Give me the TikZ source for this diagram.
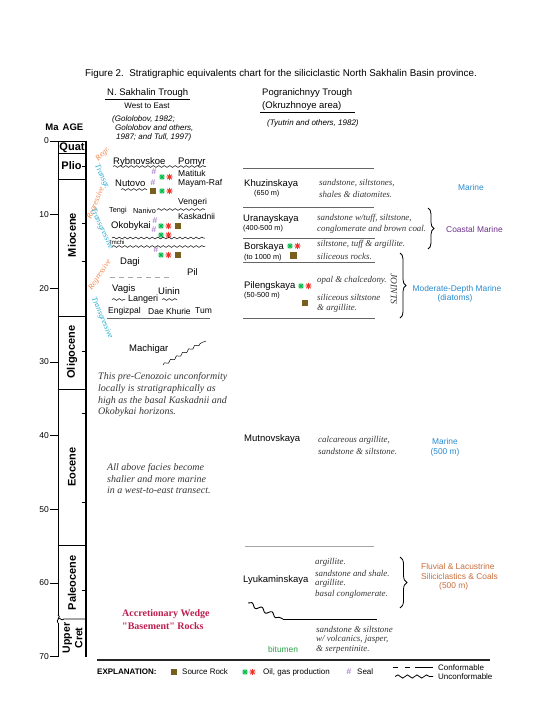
\documentclass[tikz,border=0pt]{standalone}
\usepackage{fontspec}
\setmainfont{Liberation Sans}
\newfontfamily\serifit{Liberation Serif}
\usetikzlibrary{decorations.pathmorphing,decorations.pathreplacing}
\definecolor{marineblue}{RGB}{40,140,210}
\definecolor{coastpurple}{RGB}{110,50,140}
\definecolor{fluvorange}{RGB}{200,110,60}
\definecolor{bitgreen}{RGB}{40,160,70}
\definecolor{stargreen}{RGB}{0,185,70}
\definecolor{starred}{RGB}{240,50,40}
\definecolor{srcbrown}{RGB}{120,95,30}
\definecolor{sealpurple}{RGB}{150,100,190}
\definecolor{regorange}{RGB}{242,135,80}
\definecolor{trcyan}{RGB}{35,170,210}
\definecolor{wedgered}{RGB}{190,30,80}
\definecolor{desctext}{RGB}{55,55,55}
\newcommand{\setfs}[1]{\fontsize{#1}{#1}\selectfont}
\newcommand{\oilmark}[3]{\draw[#3,line width=0.9pt] (#1-3.1,#2) -- (#1+3.1,#2) (#1,#2-3.1) -- (#1,#2+3.1) (#1-2.2,#2-2.2) -- (#1+2.2,#2+2.2) (#1-2.2,#2+2.2) -- (#1+2.2,#2-2.2);}
\newcommand{\oilpair}[2]{\oilmark{#1}{#2}{stargreen}\oilmark{#1+7.5}{#2}{starred}}
\newcommand{\srcsq}[2]{\fill[srcbrown] (#1-3.3,#2-3.3) rectangle (#1+3.3,#2+3.3);}
\tikzset{
  txt/.style={inner sep=0pt, font=\setfs{9.5}},
  fname/.style={inner sep=0pt, anchor=west, font=\setfs{9.5}},
  small/.style={inner sep=0pt, anchor=west, font=\setfs{8.5}},
  sub/.style={inner sep=0pt, anchor=west, font=\setfs{7.3}},
  desc/.style={inner sep=0pt, anchor=west, text=desctext, font=\serifit\itshape\setfs{8.9}},
  note/.style={inner sep=0pt, anchor=west, text=desctext, font=\serifit\itshape\setfs{10}},
  cite/.style={inner sep=0pt, anchor=west, font=\itshape\setfs{8}},
  epoch/.style={inner sep=0pt, font=\bfseries\setfs{11}},
  env/.style={inner sep=0pt, font=\setfs{8.4}},
  seal/.style={inner sep=0pt, text=sealpurple, font=\setfs{8.5}},
  trend/.style={inner sep=0pt, font=\serifit\itshape\setfs{8}},
  rulel/.style={draw=black!60, line width=0.8pt},
  wavy/.style={decorate, decoration={snake, amplitude=0.9pt, segment length=5.5pt}, line width=0.5pt},
  bigwave/.style={decorate, decoration={snake, amplitude=2pt, segment length=11pt}, line width=0.9pt},
  bracer/.style={decorate, decoration={brace, amplitude=6pt}, line width=0.8pt},
}
\begin{document}
\begin{tikzpicture}[x=1pt,y=-1pt]
\useasboundingbox (0,0) rectangle (556,720);
\fill[white] (0,0) rectangle (556,720);

% title
\node[txt, font=\setfs{9.8}] (title) at (281,74) {Figure 2.\ \ Stratigraphic equivalents chart for the siliciclastic North Sakhalin Basin province.};

% headers
\node[fname] (hN) at (107,93) {N. Sakhalin Trough};
\draw[line width=0.8pt] (105,99.5) -- (190,99.5);
\node[txt, font=\setfs{8}] (hWE) at (147,106) {West to East};
\node[cite] (c1) at (112,119) {(Gololobov, 1982;};
\node[cite] (c2) at (115,128) {Gololobov and others,};
\node[cite] (c3) at (116,137) {1987; and Tull, 1997)};
\node[fname] (hP1) at (262,93) {Pogranichnyy Trough};
\node[fname] (hP2) at (262,106) {(Okruzhnoye area)};
\draw[line width=0.8pt] (260,112.5) -- (355,112.5);
\node[cite] (c4) at (267,123) {(Tyutrin and others, 1982)};

% age column
\node[txt, font=\bfseries\setfs{9.5}] (ma) at (52,127) {Ma};
\node[txt, font=\bfseries\setfs{9.5}] (age) at (73,127) {AGE};
\draw[line width=0.8pt] (58,141) -- (86,141);
\draw[line width=0.8pt] (58,141) -- (58,615);
\draw[line width=0.8pt] (58,623) -- (58,657);
\draw[line width=0.8pt] (58,615) .. controls (62,616) and (55,621) .. (58,623);
\draw[line width=1.6pt] (86,141) -- (86,657);
\foreach \yy in {153,179,316,389,545} \draw[line width=0.8pt] (58,\yy) -- (86,\yy);
\draw[line width=0.8pt] (58,619) .. controls (60,616) and (61,622) .. (64,619) -- (86,619);
\foreach \n/\yy in {0/141,10/214.7,20/288.3,30/362,40/435.7,50/509.4,60/583,70/656.7}{
  \draw[line width=0.8pt] (50,\yy) -- (58,\yy);
  \node[txt, anchor=east, font=\setfs{8.5}] (t\n) at (49,\yy) {\n};
}
\foreach \yy in {166.8,223.5,261.8,351,413.6,502,590.4} \draw[line width=0.8pt] (82,\yy) -- (86,\yy);
\node[epoch] (eQ) at (72,147.5) {Quat};
\node[epoch] (eP) at (71.5,166) {Plio};
\node[epoch, rotate=90] (eM) at (72,235) {Miocene};
\node[epoch, rotate=90] (eO) at (72,352) {Oligocene};
\node[epoch, rotate=90] (eE) at (72,467) {Eocene};
\node[epoch, rotate=90] (ePa) at (72,583) {Paleocene};
\node[epoch, rotate=90, align=center, font={\bfseries\fontsize{10.5}{12.5}\selectfont}] (eC) at (72.5,638) {Upper\\Cret};

% trend labels
\node[trend, text=regorange, rotate=45] (r1) at (103,154) {Regr.};
\node[trend, text=trcyan, rotate=-65] (tr1) at (102,177) {Transgr.};
\node[trend, text=regorange, rotate=68] (r2) at (96,203) {Regressive};
\node[trend, text=trcyan, rotate=-65] (tr2) at (102,229) {Transgressive};
\node[trend, text=regorange, rotate=56] (r3) at (100,275) {Regressive};
\node[trend, text=trcyan, rotate=-67] (tr3) at (102,318) {Transgressive};

% left column formations
\node[fname] (ryb) at (113,162) {Rybnovskoe};
\node[fname] (pom) at (178,162) {Pomyr};
\draw[wavy] (113,166.5) -- (206,166.5);
\node[small] (mat) at (178,173) {Matituk};
\node[small] (may) at (178,183) {Mayam-Raf};
\node[fname] (nut) at (115,183) {Nutovo};
\draw[wavy] (121,189.5) -- (147,189.5);
\node[seal] (s1) at (154,172) {\#};
\node[seal] (s2) at (153,183) {\#};
\oilpair{162}{177}
\srcsq{153}{191}
\oilpair{162}{191}
\node[small] (ven) at (178,202) {Vengeri};
\node[sub] (ten) at (109,211) {Tengi};
\node[sub] (nan) at (133,211) {Nanivo};
\draw[wavy] (157,209.5) -- (205,209.5);
\node[small] (kas) at (178,216) {Kaskadnii};
\node[fname] (oko) at (111,226) {Okobykai};
\node[seal] (s3) at (155,221) {\#};
\node[seal] (s4) at (154,230) {\#};
\oilpair{161}{226}
\srcsq{178}{226}
\oilpair{161}{235}
\draw[wavy] (112,238) -- (205,238);
\draw[wavy] (112,246.5) -- (205,246.5);
\node[inner sep=0pt, anchor=west, font=\setfs{6}] (imc) at (110,242) {Imchi};
\node[seal] (s5) at (156,250) {\#};
\oilpair{161}{255}
\srcsq{178}{255}
\node[fname] (dag) at (120,262) {Dagi};
\draw[draw=black!35, line width=0.8pt, dash pattern=on 5pt off 4pt] (110,277) -- (173,277);
\node[fname] (pil) at (187,272) {Pil};
\node[fname] (vag) at (112,289) {Vagis};
\node[fname] (uin) at (158,291) {Uinin};
\draw[wavy] (112,299.5) -- (125,299.5);
\node[inner sep=0pt, anchor=west, font=\setfs{9}] (lan) at (128,299) {Langeri};
\draw[wavy] (162,299.5) -- (177,299.5);
\node[small] (eng) at (108,311) {Engizpal};
\node[small] (dae) at (148,311) {Dae Khurie};
\node[small] (tum) at (195,311) {Tum};
\draw[rulel] (107,318) -- (210,318);
\node[fname] (mac) at (129,349) {Machigar};
\draw[decorate, decoration={snake, amplitude=1.2pt, segment length=7pt}, line width=0.5pt] (163,365) -- (202,342.5);
\draw[line width=0.5pt] (202,342.5) -- (206,341);

% notes
\node[note] (n1) at (98,377) {This pre-Cenozoic unconformity};
\node[note] (n2) at (98,389) {locally is stratigraphically as};
\node[note] (n3) at (98,401) {high as the basal Kaskadnii and};
\node[note] (n4) at (98,412) {Okobykai horizons.};
\node[note] (n5) at (107,468) {All above facies become};
\node[note] (n6) at (107,479) {shalier and more marine};
\node[note] (n7) at (107,490) {in a west-to-east transect.};
\node[inner sep=0pt, anchor=west, text=wedgered, font=\serifit\bfseries\setfs{10}] (w1) at (122,614) {Accretionary Wedge};
\node[inner sep=0pt, anchor=west, text=wedgered, font=\serifit\bfseries\setfs{10}] (w2) at (122,626) {"Basement" Rocks};

% right column
\draw[rulel] (243,168) -- (374,168);
\node[fname] (khu) at (244,184) {Khuzinskaya};
\node[sub] (khum) at (254,193.5) {(650 m)};
\node[desc] (d1) at (319,183) {sandstone, siltstones,};
\node[desc] (d2) at (319,194) {shales \& diatomites.};
\node[env, text=marineblue] (mar1) at (471,187) {Marine};
\draw[rulel] (243,207) -- (374,207);
\node[fname] (ura) at (243,219) {Uranayskaya};
\node[sub] (uram) at (243,229) {(400-500 m)};
\node[desc] (d3) at (317,218) {sandstone w/tuff, siltstone,};
\node[desc] (d4) at (317,229) {conglomerate and brown coal.};
\draw[bracer] (428,208) -- (428,249);
\node[env, anchor=west, text=coastpurple] (coast) at (446,229) {Coastal Marine};
\draw[rulel] (243,238) -- (375,238);
\node[fname] (bor) at (244,247) {Borskaya};
\oilpair{290}{246}
\srcsq{293.5}{255.5}
\node[sub] (borm) at (244,258) {(to 1000 m)};
\node[desc] (d5) at (317,244) {siltstone, tuff \& argillite.};
\node[desc] (d6) at (317,256) {siliceous rocks.};
\draw[rulel] (243,262) -- (375,262);
\node[fname] (pile) at (244,286) {Pilengskaya};
\oilpair{301}{286}
\node[sub] (pilm) at (244,296) {(50-500 m)};
\srcsq{305}{303}
\node[desc] (d7) at (317,280) {opal \& chalcedony.};
\node[desc] (d8) at (317,297) {siliceous siltstone};
\node[desc] (d9) at (317,308) {\& argillite.};
\draw[rulel] (243,318) -- (375,318);
\node[inner sep=0pt, text=desctext, font=\serifit\itshape\setfs{9.5}, rotate=-90] (joi) at (394,289) {JOINTS};
\draw[bracer] (400,253) -- (400,318);
\node[env, text=marineblue] (mod1) at (457,289) {Moderate-Depth Marine};
\node[env, text=marineblue] (mod2) at (455,298.5) {(diatoms)};
\node[fname] (mut) at (244,439) {Mutnovskaya};
\node[desc] (d10) at (318,440) {calcareous argillite,};
\node[desc] (d11) at (318,451) {sandstone \& siltstone.};
\node[env, text=marineblue] (mar2) at (445,441) {Marine};
\node[env, text=marineblue] (mar3) at (445,452) {(500 m)};
\draw[draw=black!35, line width=0.8pt] (245,546) -- (374,546);
\node[fname] (lyu) at (243,580) {Lyukaminskaya};
\node[desc] (d12) at (315,562) {argillite.};
\node[desc] (d13) at (315,573) {sandstone and shale.};
\node[desc] (d14) at (315,583) {argillite.};
\node[desc] (d15) at (315,594) {basal conglomerate.};
\draw[bracer, decoration={brace, amplitude=7pt}] (400,557) -- (400,608);
\node[env, anchor=west, text=fluvorange] (flu1) at (421,566) {Fluvial \& Lacustrine};
\node[env, anchor=west, text=fluvorange] (flu2) at (421,576) {Siliciclastics \& Coals};
\node[env, anchor=west, text=fluvorange] (flu3) at (439,586) {(500 m)};
\coordinate (uc1) at (248,603);
\coordinate (uc2) at (283,619);
\coordinate (uc3) at (377,619);
\draw[bigwave] (uc1) -- (uc2);
\draw[line width=0.9pt] (uc2) -- (uc3);
\node[desc] (d16) at (316,629) {sandstone \& siltstone};
\node[desc] (d17) at (316,639) {w/ volcanics, jasper,};
\node[desc] (d18) at (316,649) {\& serpentinite.};
\node[env, anchor=west, text=bitgreen] (bit) at (268,649) {bitumen};

% bottom rule and explanation
\draw[line width=1.6pt, draw=black!85] (97,660) -- (490,660);
\node[inner sep=0pt, anchor=west, font=\bfseries\setfs{8}] (expl) at (97,672) {EXPLANATION:};
\srcsq{174}{672}
\node[inner sep=0pt, anchor=west, font=\setfs{8}] (lsrc) at (182,672) {Source Rock};
\oilpair{245}{672}
\node[inner sep=0pt, anchor=west, font=\setfs{8}] (loil) at (263,672) {Oil, gas production};
\node[seal] (lseal) at (349,672) {\#};
\node[inner sep=0pt, anchor=west, font=\setfs{8}] (lsealt) at (357,672) {Seal};
\draw[line width=0.8pt] (393,667) -- (398,667) (405,667) -- (410,667) (415,667) -- (433,667);
\node[inner sep=0pt, anchor=west, font=\setfs{8}] (lcon) at (438,668) {Conformable};
\draw[decorate, decoration={snake, amplitude=1.6pt, segment length=9.5pt}, line width=0.8pt] (395,676.5) -- (433,676.5);
\node[inner sep=0pt, anchor=west, font=\setfs{8}] (lunc) at (438,677) {Unconformable};
\end{tikzpicture}
\end{document}
